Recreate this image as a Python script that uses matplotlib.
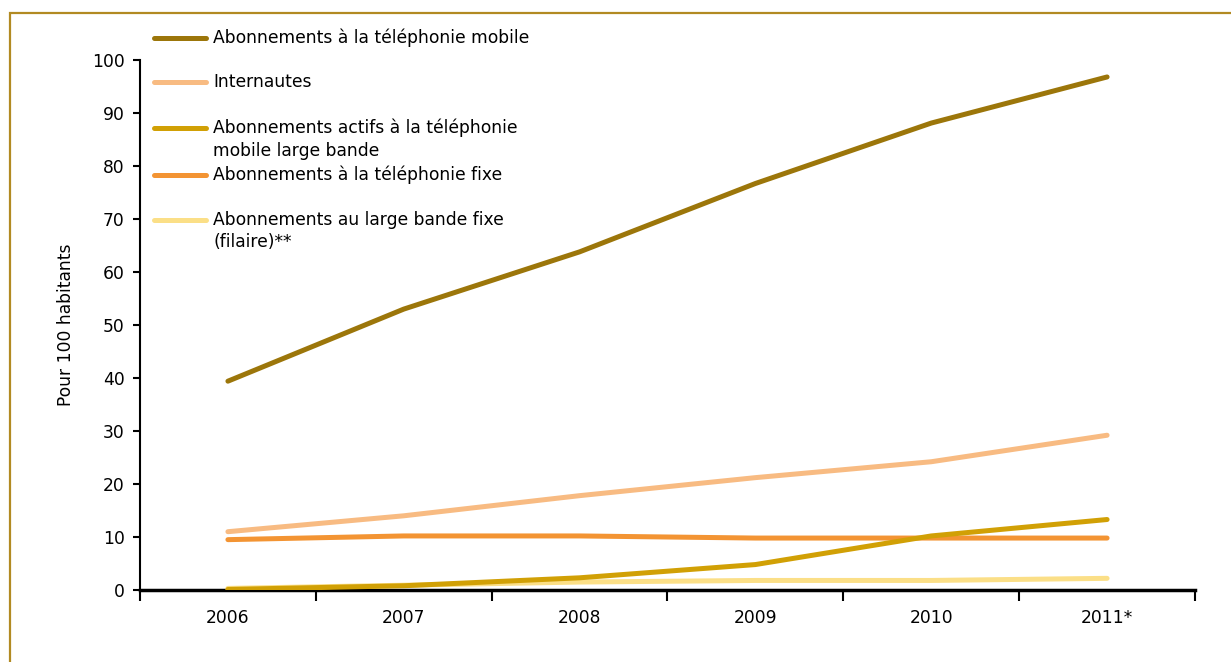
import matplotlib.pyplot as plt
from matplotlib.lines import Line2D
from matplotlib.patches import Rectangle

years = ['2006', '2007', '2008', '2009', '2010', '2011*']
mobile = [39.4, 53.0, 63.8, 76.7, 88.1, 96.8]
internautes = [11.0, 14.0, 17.8, 21.2, 24.2, 29.2]
mobile_lb = [0.1, 0.8, 2.3, 4.8, 10.2, 13.3]
fixe = [9.5, 10.2, 10.2, 9.8, 9.8, 9.8]
fixe_lb = [0.3, 0.9, 1.5, 1.8, 1.8, 2.2]

labels = ['Abonnements à la téléphonie mobile',
          'Internautes',
          'Abonnements actifs à la téléphonie\nmobile large bande',
          'Abonnements à la téléphonie fixe',
          'Abonnements au large bande fixe\n(filaire)**']
colors = ['#9C760A', '#F8BB82', '#D1A005', '#F39433', '#FBDF87']
series = [mobile, internautes, mobile_lb, fixe, fixe_lb]

plt.rcParams['font.family'] = 'DejaVu Sans'
fs = 12.3
fig = plt.figure(figsize=(12.31, 6.62), dpi=100)
ax = fig.add_axes([140/1231, 72/662, 1055/1231, 530/662])

x = list(range(len(years)))
# draw back to front like the original
for i in [4, 3, 2, 1, 0]:
    ax.plot(x, series[i], color=colors[i], lw=3.6, solid_capstyle='round', zorder=3 + (4 - i))

ax.set_xlim(-0.5, 5.5)
ax.set_ylim(0, 100)
ax.set_yticks(range(0, 101, 10))
ax.set_xticks(x)
ax.set_xticklabels(years)
ax.set_xticks([i - 0.5 for i in range(7)], minor=True)
ax.tick_params(axis='x', which='major', length=0, pad=14, labelsize=fs)
ax.tick_params(axis='x', which='minor', length=8, width=1.5, direction='out')
ax.tick_params(axis='y', length=5, width=1.5, labelsize=fs, pad=6)
ax.spines['top'].set_visible(False)
ax.spines['right'].set_visible(False)
ax.spines['left'].set_linewidth(1.5)
ax.spines['bottom'].set_linewidth(2.5)
ax.set_ylabel('Pour 100 habitants', fontsize=fs, labelpad=12)

# legend drawn by hand (handles sit on first text line)
leg_y = [38, 82, 128, 175, 220]
for lab, col, yy in zip(labels, colors, leg_y):
    fy = 1 - yy / 662
    fig.add_artist(Line2D([154/1231, 206/1231], [fy, fy], color=col, lw=3.6,
                          solid_capstyle='round', transform=fig.transFigure))
    fig.text(213/1231, fy + 9/662, lab, fontsize=fs, va='top', ha='left',
             linespacing=1.3)

# outer frame
fig.add_artist(Rectangle((10/1231, -0.05), 1.2, 1 - 13/662 + 0.05, fill=False,
                         ec='#B28A22', lw=1.6, transform=fig.transFigure))

fig.savefig('out.png', dpi=100)
